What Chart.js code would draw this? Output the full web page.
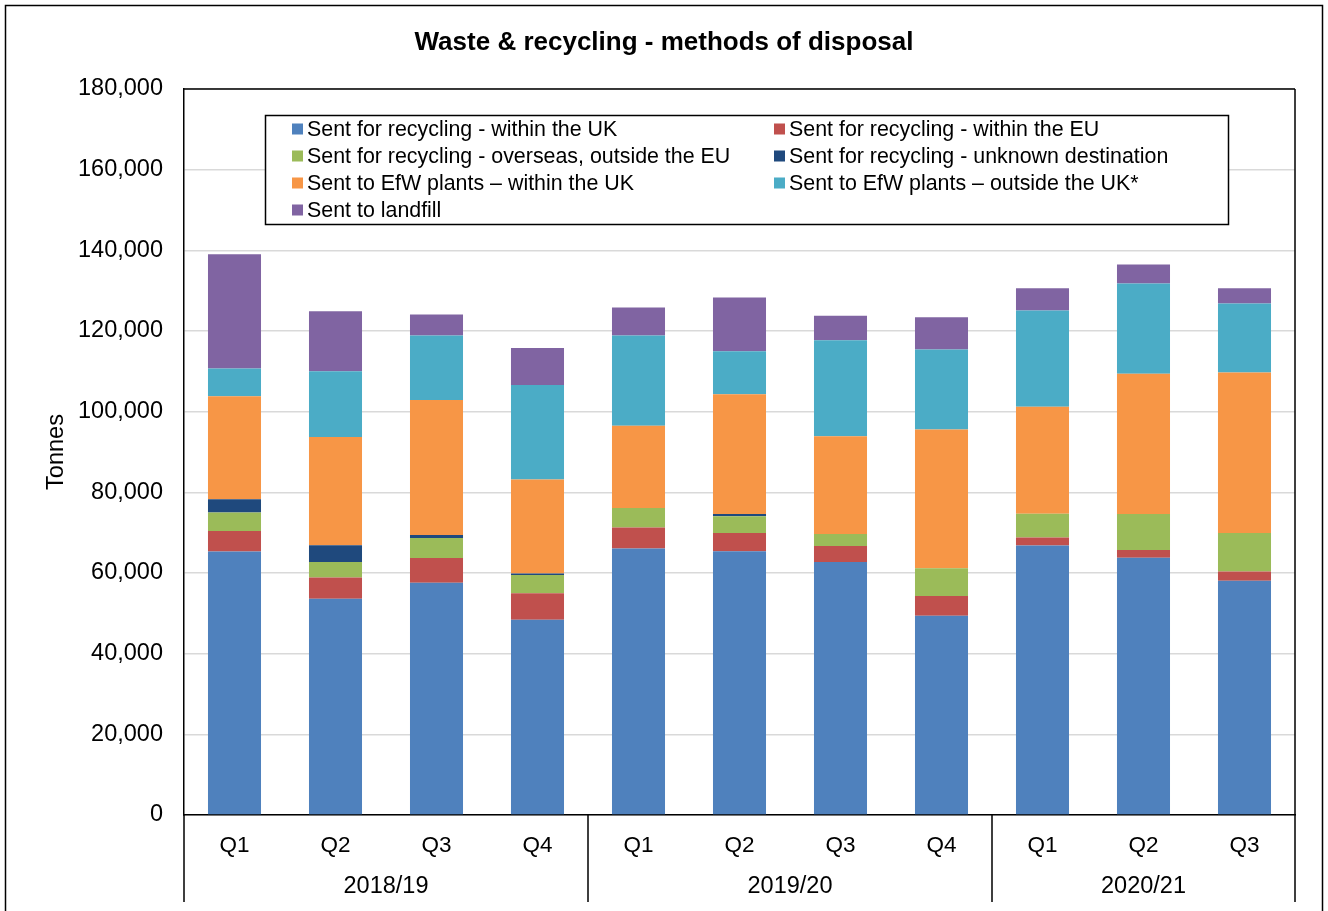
<!DOCTYPE html>
<html>
<head>
<meta charset="utf-8">
<script src="https://cdn.jsdelivr.net/npm/chart.js@4.4.1/dist/chart.umd.min.js"></script>
<style>
  html, body { margin: 0; padding: 0; background: #fff; }
  #wrap { width: 1328px; height: 911px; position: relative; }
  canvas { display: block; }
</style>
</head>
<body>
<div id="wrap"><canvas id="c" width="1328" height="911"></canvas></div>
<script>
// ---- Data (tonnes) ----
const quarters = ['Q1','Q2','Q3','Q4','Q1','Q2','Q3','Q4','Q1','Q2','Q3'];
const years = ['2018/19', '2019/20', '2020/21'];
const yearSpans = [4, 4, 3];
const seriesNames = [
  'Sent for recycling - within the UK',
  'Sent for recycling - within the EU',
  'Sent for recycling - overseas, outside the EU',
  'Sent for recycling - unknown destination',
  'Sent to EfW plants \u2013 within the UK',
  'Sent to EfW plants \u2013 outside the UK*',
  'Sent to landfill'
];
const recyclingUK       = [65300, 53600, 57600, 48400, 66100, 65400, 62700, 49400, 66800, 63800, 58100];
const recyclingEU       = [5100, 5300, 6100, 6600, 5200, 4500, 4000, 4900, 2000, 1900, 2300];
const recyclingOverseas = [4600, 3800, 5000, 4500, 4800, 4200, 3000, 6900, 5900, 8900, 9500];
const recyclingUnknown  = [3300, 4200, 700, 400, 0, 500, 0, 0, 0, 0, 0];
const efwUK             = [25500, 26800, 33500, 23300, 20400, 29700, 24200, 34400, 26500, 34800, 39800];
const efwOutsideUK      = [6900, 16300, 16000, 23400, 22400, 10700, 23800, 19800, 23900, 22400, 17100];
const landfill          = [28300, 14900, 5200, 9200, 6900, 13300, 6100, 8000, 5500, 4700, 3800];
const yTicks = [0, 20000, 40000, 60000, 80000, 100000, 120000, 140000, 160000, 180000];

const colors = ['#4F81BD', '#C0504D', '#9BBB59', '#1F497D', '#F79646', '#4BACC6', '#8064A2'];
const seriesData = [recyclingUK, recyclingEU, recyclingOverseas, recyclingUnknown, efwUK, efwOutsideUK, landfill];

const FONT = "'Liberation Sans', Arial, sans-serif";

const overlay = {
  id: 'overlay',
  beforeDraw(chart) {
    const ctx = chart.ctx;
    ctx.save();
    ctx.fillStyle = '#fff';
    ctx.fillRect(0, 0, chart.width, chart.height);
    ctx.restore();
  },
  afterDraw(chart) {
    const ctx = chart.ctx;
    const a = chart.chartArea;
    const xs = chart.scales.x;
    ctx.save();
    // outer frame
    ctx.strokeStyle = '#000';
    ctx.lineWidth = 1.5;
    ctx.strokeRect(5.5, 5.5, 1317, 920);
    // plot area top & right border
    ctx.beginPath();
    ctx.moveTo(a.left, a.top); ctx.lineTo(a.right, a.top);
    ctx.moveTo(a.right, a.top); ctx.lineTo(a.right, a.bottom);
    ctx.stroke();
    // title
    ctx.fillStyle = '#000';
    ctx.font = 'bold 26px ' + FONT;
    ctx.textAlign = 'center';
    ctx.textBaseline = 'middle';
    ctx.fillText('Waste & recycling - methods of disposal', 664, 43);
    // group separators and year labels
    const bottomY = 902;
    let idx = 0;
    const edges = [a.left];
    yearSpans.forEach((n, g) => {
      const last = idx + n - 1;
      const right = (last === quarters.length - 1) ? a.right :
        (xs.getPixelForValue(last) + xs.getPixelForValue(last + 1)) / 2;
      edges.push(right);
      idx += n;
    });
    ctx.beginPath();
    edges.forEach(x => { ctx.moveTo(x, a.bottom); ctx.lineTo(x, bottomY); });
    ctx.stroke();
    ctx.font = '23.5px ' + FONT;
    years.forEach((y, g) => {
      ctx.fillText(y, (edges[g] + edges[g + 1]) / 2, 887);
    });
    // legend
    const lx = 265.5, ly = 115.5, lw = 963, lh = 109;
    ctx.fillStyle = '#fff';
    ctx.fillRect(lx, ly, lw, lh);
    ctx.strokeRect(lx, ly, lw, lh);
    ctx.font = '21.4px ' + FONT;
    ctx.textAlign = 'left';
    chart.data.datasets.forEach((ds, i) => {
      const col = i % 2, row = Math.floor(i / 2);
      const mx = col === 0 ? 292 : 774;
      const cy = 129 + row * 27;
      ctx.fillStyle = ds.backgroundColor;
      ctx.fillRect(mx, cy - 5.5, 11, 11);
      ctx.fillStyle = '#000';
      ctx.fillText(ds.label, mx + 15, cy + 1);
    });
    ctx.restore();
  }
};

new Chart(document.getElementById('c'), {
  type: 'bar',
  data: {
    labels: quarters,
    datasets: seriesData.map((d, i) => ({
      label: seriesNames[i],
      data: d,
      backgroundColor: colors[i],
      borderWidth: 0,
      barPercentage: 0.525,
      categoryPercentage: 1
    }))
  },
  options: {
    responsive: false,
    animation: false,
    devicePixelRatio: 1,
    layout: { padding: { top: 89, right: 33, left: 0, bottom: 0 } },
    plugins: {
      legend: { display: false },
      title: { display: false },
      tooltip: { enabled: false }
    },
    scales: {
      x: {
        stacked: true,
        grid: { display: false, drawTicks: false },
        border: { display: true, color: '#000', width: 1.5 },
        ticks: { color: '#000', font: { family: FONT, size: 22.5 }, padding: 17, maxRotation: 0, autoSkip: false },
        afterFit(s) { s.height = 96; }
      },
      y: {
        stacked: true,
        min: 0, max: 180000,
        afterBuildTicks(s) { s.ticks = yTicks.map(v => ({ value: v })); },
        grid: { color: '#d9d9d9', lineWidth: 1.5, drawTicks: false },
        border: { display: true, color: '#000', width: 1.5 },
        ticks: {
          color: '#000', font: { family: FONT, size: 23.5 }, padding: 21,
          callback: v => v.toLocaleString('en-GB')
        },
        title: { display: true, text: 'Tonnes', color: '#000', font: { family: FONT, size: 23.5 }, padding: { top: 42, bottom: 0 } },
        afterFit(s) { s.width = 184; }
      }
    }
  },
  plugins: [overlay]
});
</script>
</body>
</html>
